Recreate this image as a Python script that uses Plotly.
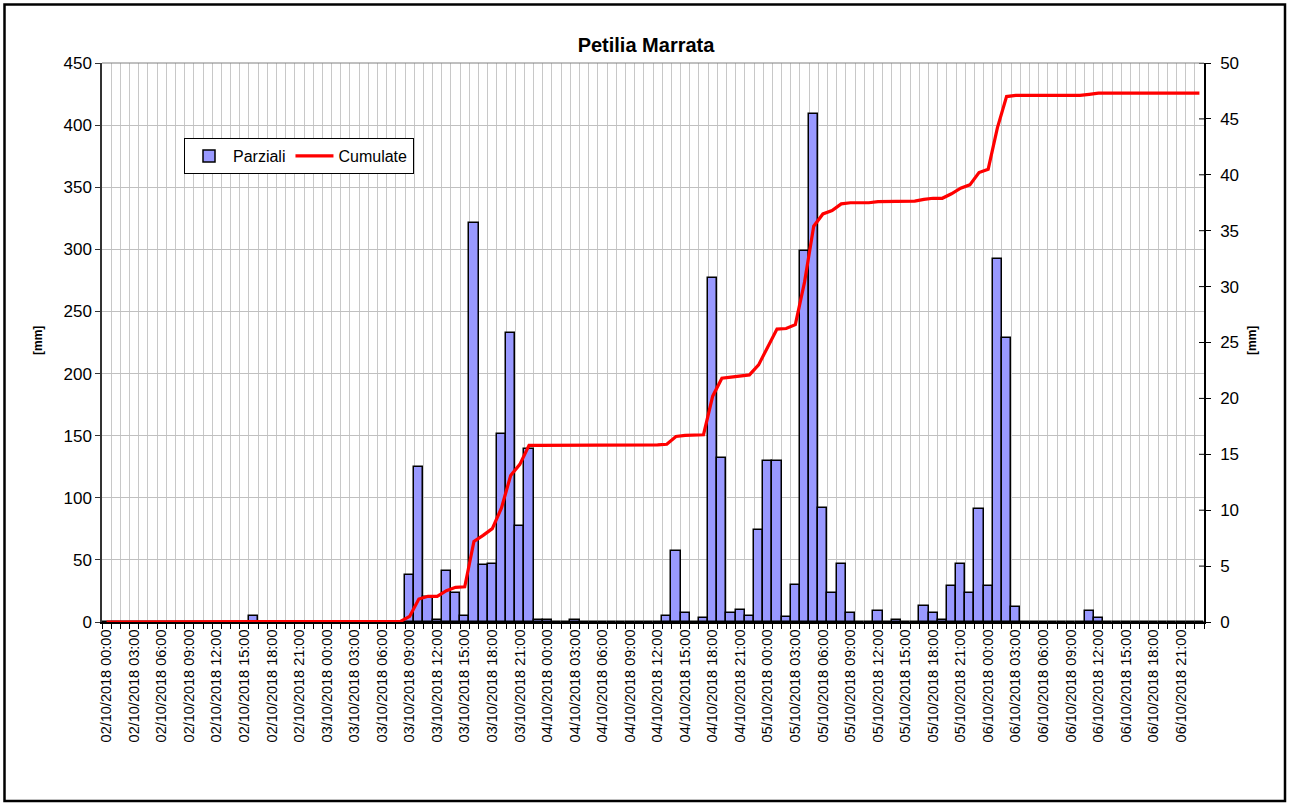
import pandas as pd
import plotly.graph_objects as go

# Hourly categories, 02/10/2018 00:00 -> 06/10/2018 23:00
ore = (
    pd.date_range("2018-10-02 00:00", periods=120, freq="h")
    .strftime("%d/%m/%Y %H:%M")
    .tolist()
)

# Hourly partial values (left axis)
parziali = [
    # 02/10
    0, 0, 0, 0, 0, 0, 0, 0, 0, 0, 0, 0,
    0, 0, 0, 0, 4.5, 0, 0, 0, 0, 0, 0, 0,
    # 03/10
    0, 0, 0, 0, 0, 0, 0, 0, 0, 38, 125, 20,
    2, 41, 23, 5, 321, 46, 47, 151, 233, 77, 139, 2,
    # 04/10
    2, 0, 0, 2, 0, 0, 0, 0, 0, 0, 0, 0,
    0, 5, 57, 7, 0, 3.5, 277, 132, 7, 10, 5, 74,
    # 05/10
    130, 130, 4, 30, 299, 409, 92, 23, 47, 7, 0, 0,
    9, 0, 2, 0, 0, 13, 7, 2, 29, 47, 23, 91,
    # 06/10
    29, 292, 229, 12, 0, 0, 0, 0, 0, 0, 0, 9,
    3.5, 0, 0, 0, 0, 0, 0, 0, 0, 0, 0, 0,
]

# Cumulative values (right axis)
cumulate = [
    # 02/10
    0, 0, 0, 0, 0, 0, 0, 0, 0, 0, 0, 0,
    0, 0, 0, 0, 0.05, 0.05, 0.05, 0.05, 0.05, 0.05, 0.05, 0.05,
    # 03/10
    0.05, 0.05, 0.05, 0.05, 0.05, 0.05, 0.05, 0.05, 0.05, 0.5, 2.05, 2.3,
    2.3, 2.8, 3.1, 3.15, 7.2, 7.75, 8.35, 10.2, 13.1, 14.1, 15.8, 15.8,
    # 04/10
    15.8, 15.8, 15.8, 15.85, 15.85, 15.85, 15.85, 15.85, 15.85, 15.85, 15.85, 15.85,
    15.85, 15.9, 16.6, 16.7, 16.7, 16.75, 20.2, 21.8, 21.9, 22.0, 22.1, 23.0,
    # 05/10
    24.6, 26.2, 26.25, 26.6, 30.4, 35.4, 36.5, 36.8, 37.4, 37.5, 37.5, 37.5,
    37.6, 37.6, 37.65, 37.65, 37.65, 37.8, 37.9, 37.9, 38.3, 38.8, 39.1, 40.2,
    # 06/10
    40.5, 44.2, 47.0, 47.1, 47.1, 47.1, 47.1, 47.1, 47.1, 47.1, 47.1, 47.2,
    47.3, 47.3, 47.3, 47.3, 47.3, 47.3, 47.3, 47.3, 47.3, 47.3, 47.3, 47.3,
]

y_left_ticks = list(range(0, 451, 50))
y_right_ticks = list(range(0, 51, 5))

FONT = "Liberation Sans, Arial, Helvetica, sans-serif"
W, H = 1289, 805
L, R, T, B = 102, 85, 63, 183
PW, PH = W - L - R, H - T - B

pos = list(range(len(ore)))
label_pos = pos[::3]
label_txt = ore[::3]
bounds = [p - 0.5 for p in pos] + [pos[-1] + 0.5]


def px(xp):
    return (xp - L) / PW


def py(yp):
    return (H - B - yp) / PH


fig = go.Figure()

fig.add_trace(go.Bar(
    x=pos, y=parziali, name="Parziali",
    marker=dict(color="#9999FF", line=dict(color="black", width=1.5)),
    yaxis="y",
))
fig.add_trace(go.Scatter(
    x=pos, y=cumulate, name="Cumulate", mode="lines",
    line=dict(color="#FF0000", width=3.2),
    yaxis="y2",
))

shapes = [
    # outer chart frame
    dict(type="rect", xref="paper", yref="paper",
         x0=px(4.5), x1=px(1285), y0=py(801), y1=py(4.5),
         line=dict(color="black", width=2.5), fillcolor="rgba(0,0,0,0)", layer="above"),
    # top edge of plot area
    dict(type="line", xref="paper", yref="paper", x0=0, x1=1, y0=1, y1=1,
         line=dict(color="#808080", width=1), layer="above"),
]
# inner half of the crossing ticks on the right axis
for v in y_right_ticks:
    shapes.append(dict(type="line", xref="paper", yref="y2",
                       x0=1 - 5 / PW, x1=1, y0=v, y1=v,
                       line=dict(color="black", width=1), layer="above"))

fig.update_layout(
    width=W, height=H,
    margin=dict(l=L, r=R, t=T, b=B, pad=0),
    paper_bgcolor="white", plot_bgcolor="white",
    font=dict(family=FONT, color="black"),
    bargap=0,
    showlegend=True,
    title=dict(text="<b>Petilia Marrata</b>", x=646 / W, y=1 - 45 / H,
               xanchor="center", yanchor="middle",
               font=dict(size=20, family=FONT, color="black")),
    legend=dict(orientation="h", x=px(184), y=py(138), xanchor="left", yanchor="top",
                bgcolor="white", bordercolor="black", borderwidth=1,
                font=dict(size=16, family=FONT), itemwidth=38,
                tracegroupgap=0),
    xaxis=dict(
        range=[-0.5, len(ore) - 0.5],
        tickmode="array", tickvals=label_pos, ticktext=label_txt,
        tickangle=-90, ticks="", showgrid=False,
        tickfont=dict(size=14.5, family=FONT),
        showline=True, linecolor="black", linewidth=1.5,
        zeroline=False,
        minor=dict(tickmode="array", tickvals=bounds, ticks="outside", ticklen=5,
                   tickcolor="black", showgrid=True, gridcolor="#c8c8c8", gridwidth=1),
    ),
    yaxis=dict(
        range=[0, 450], tickmode="array", tickvals=y_left_ticks,
        ticks="outside", ticklen=5, tickcolor="#333333",
        showgrid=True, gridcolor="#c0c0c0", gridwidth=1,
        showline=True, linecolor="#333333", linewidth=1.5,
        zeroline=False, tickfont=dict(size=17, family=FONT),
    ),
    yaxis2=dict(
        range=[0, 50], overlaying="y", side="right", tickmode="array",
        tickvals=y_right_ticks, ticks="outside", ticklen=5, tickcolor="black",
        showgrid=False, showline=True, linecolor="black", linewidth=1.5,
        zeroline=False, tickfont=dict(size=17, family=FONT),
        ticklabelstandoff=6,
    ),
    shapes=shapes,
    annotations=[
        dict(text="<b>[mm]</b>", xref="paper", yref="paper", x=px(38), y=py(341),
             textangle=-90, showarrow=False, font=dict(size=12, family=FONT),
             xanchor="center", yanchor="middle"),
        dict(text="<b>[mm]</b>", xref="paper", yref="paper", x=px(1252), y=py(341),
             textangle=-90, showarrow=False, font=dict(size=12, family=FONT),
             xanchor="center", yanchor="middle"),
    ],
)

fig.write_html("out.html")
